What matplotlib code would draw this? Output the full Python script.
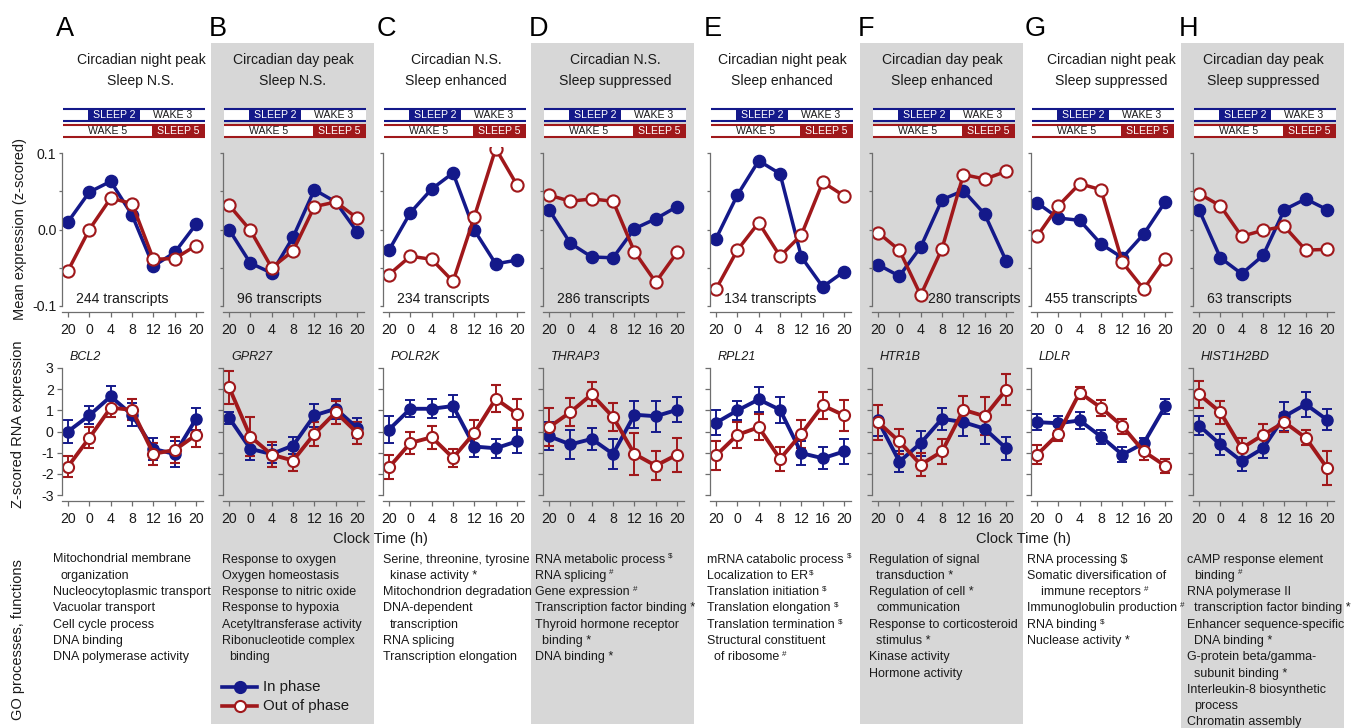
import matplotlib.pyplot as plt
from matplotlib.patches import Rectangle
from matplotlib.lines import Line2D

plt.rcParams['font.family'] = ['Liberation Sans', 'DejaVu Sans']

W, H = 1360, 728
BLUE = '#14198a'
RED = '#a0181b'
GRAY = '#d7d7d7'
AXC = '#6e6e6e'
TXT = '#1a1a1a'

# ---- data ----
panels = list('ABCDEFGH')
clock_labels = ['20', '0', '4', '8', '12', '16', '20']
circadian = ['Circadian night peak', 'Circadian day peak', 'Circadian N.S.', 'Circadian N.S.',
             'Circadian night peak', 'Circadian day peak', 'Circadian night peak', 'Circadian day peak']
sleep = ['Sleep N.S.', 'Sleep N.S.', 'Sleep enhanced', 'Sleep suppressed',
         'Sleep enhanced', 'Sleep enhanced', 'Sleep suppressed', 'Sleep suppressed']
transcripts = [244, 96, 234, 286, 134, 280, 455, 63]
genes = ['BCL2', 'GPR27', 'POLR2K', 'THRAP3', 'RPL21', 'HTR1B', 'LDLR', 'HIST1H2BD']

mean_in = [
    [0.010, 0.049, 0.063, 0.019, -0.048, -0.030, 0.007],
    [0.000, -0.044, -0.057, -0.010, 0.052, 0.036, -0.003],
    [-0.027, 0.022, 0.053, 0.074, -0.001, -0.045, -0.040],
    [0.026, -0.018, -0.036, -0.037, 0.001, 0.014, 0.030],
    [-0.012, 0.045, 0.090, 0.073, -0.036, -0.075, -0.055],
    [-0.046, -0.061, -0.023, 0.039, 0.051, 0.020, -0.041],
    [0.035, 0.015, 0.012, -0.019, -0.037, -0.006, 0.036],
    [0.026, -0.037, -0.058, -0.034, 0.026, 0.040, 0.026],
]
mean_out = [
    [-0.054, 0.000, 0.041, 0.034, -0.039, -0.038, -0.021],
    [0.032, -0.001, -0.050, -0.028, 0.030, 0.036, 0.015],
    [-0.059, -0.035, -0.039, -0.068, 0.017, 0.106, 0.058],
    [0.045, 0.037, 0.040, 0.037, -0.029, -0.069, -0.030],
    [-0.078, -0.027, 0.009, -0.035, -0.007, 0.062, 0.044],
    [-0.004, -0.027, -0.086, -0.025, 0.072, 0.066, 0.076],
    [-0.009, 0.031, 0.060, 0.052, -0.043, -0.078, -0.038],
    [0.047, 0.031, -0.009, -0.001, 0.004, -0.027, -0.026],
]

gene_in = [
    [0.00, 0.76, 1.65, 0.79, -0.82, -1.06, 0.60],
    [0.65, -0.82, -1.06, -0.66, 0.76, 1.07, 0.17],
    [0.09, 1.07, 1.07, 1.20, -0.71, -0.79, -0.46],
    [-0.22, -0.61, -0.35, -1.06, 0.79, 0.72, 1.02],
    [0.41, 0.99, 1.51, 1.02, -1.02, -1.26, -0.94],
    [0.52, -1.42, -0.55, 0.60, 0.44, 0.13, -0.79],
    [0.44, 0.39, 0.52, -0.24, -1.09, -0.55, 1.18],
    [0.28, -0.61, -1.40, -0.79, 0.71, 1.28, 0.55],
]
gene_in_err = [
    [0.53, 0.42, 0.48, 0.55, 0.53, 0.60, 0.53],
    [0.28, 0.50, 0.43, 0.40, 0.55, 0.47, 0.47],
    [0.63, 0.41, 0.45, 0.50, 0.50, 0.45, 0.53],
    [0.67, 0.67, 0.53, 0.70, 0.63, 0.72, 0.59],
    [0.59, 0.44, 0.60, 0.61, 0.55, 0.51, 0.57],
    [0.71, 0.51, 0.59, 0.53, 0.63, 0.72, 0.55],
    [0.39, 0.35, 0.40, 0.33, 0.35, 0.24, 0.35],
    [0.46, 0.50, 0.45, 0.47, 0.67, 0.60, 0.49],
]
gene_out = [
    [-1.65, -0.30, 1.12, 1.02, -1.05, -0.87, -0.16],
    [2.09, -0.24, -1.09, -1.37, -0.11, 0.91, -0.06],
    [-1.69, -0.54, -0.27, -1.24, -0.06, 1.54, 0.83],
    [0.20, 0.91, 1.75, 0.68, -1.06, -1.61, -1.09],
    [-1.13, -0.16, 0.20, -1.29, -0.11, 1.23, 0.76],
    [0.44, -0.47, -1.56, -0.94, 1.02, 0.72, 1.97],
    [-1.10, -0.11, 1.83, 1.12, 0.25, -0.94, -1.61],
    [1.75, 0.91, -0.79, -0.16, 0.44, -0.30, -1.72],
]
gene_out_err = [
    [0.50, 0.50, 0.43, 0.50, 0.53, 0.60, 0.55],
    [0.78, 0.90, 0.60, 0.50, 0.55, 0.55, 0.53],
    [0.57, 0.50, 0.55, 0.43, 0.59, 0.63, 0.68],
    [0.89, 0.67, 0.57, 0.65, 1.00, 0.67, 0.80],
    [0.69, 0.63, 0.61, 0.56, 0.65, 0.65, 0.72],
    [0.83, 0.57, 0.54, 0.61, 0.67, 0.89, 0.72],
    [0.45, 0.35, 0.28, 0.37, 0.35, 0.38, 0.33],
    [0.63, 0.55, 0.50, 0.50, 0.45, 0.35, 0.78],
]

go_terms = [
    ['Mitochondrial membrane', ' organization', 'Nucleocytoplasmic transport', 'Vacuolar transport',
     'Cell cycle process', 'DNA binding', 'DNA polymerase activity'],
    ['Response to oxygen', 'Oxygen homeostasis', 'Response to nitric oxide', 'Response to hypoxia',
     'Acetyltransferase activity', 'Ribonucleotide complex', ' binding'],
    ['Serine, threonine, tyrosine', ' kinase activity *', 'Mitochondrion degradation', 'DNA-dependent',
     ' transcription', 'RNA splicing', 'Transcription elongation'],
    ['RNA metabolic process ^$', 'RNA splicing ^#', 'Gene expression ^#', 'Transcription factor binding *',
     'Thyroid hormone receptor', ' binding *', 'DNA binding *'],
    ['mRNA catabolic process ^$', 'Localization to ER^$', 'Translation initiation ^$',
     'Translation elongation ^$', 'Translation termination ^$', 'Structural constituent',
     ' of ribosome ^#'],
    ['Regulation of signal', ' transduction *', 'Regulation of cell *', ' communication',
     'Response to corticosteroid', ' stimulus *', 'Kinase activity', 'Hormone activity'],
    ['RNA processing $', 'Somatic diversification of', '  immune receptors ^#',
     'Immunoglobulin production ^#', 'RNA binding ^$', 'Nuclease activity *'],
    ['cAMP response element', ' binding ^#', 'RNA polymerase II', ' transcription factor binding *',
     'Enhancer sequence-specific', ' DNA binding *', 'G-protein beta/gamma-', ' subunit binding *',
     'Interleukin-8 biosynthetic', ' process', 'Chromatin assembly'],
]

# sleep / wake schedule edges, in clock-sample index units
sched_blue = [-0.23, 0.96, 3.35, 6.42]
sched_red = [-0.23, 3.92, 6.42]

# ---- layout (pixels) ----
X0 = [68, 229, 389, 549, 716, 878, 1037, 1199]   # pixel of first sample
DX = 21.35
title_shift = [9, 0, 3, 2, 2, 0, 10, 0]
go_dx = [-15, -7, -6, -14, -9, -9, -10, -12]

fig = plt.figure(figsize=(W / 100, H / 100), dpi=100)
renderer = fig.canvas.get_renderer()


def fx(x):
    return x / W


def fy(y):
    return 1 - y / H


def add_ax(left, top, w, h):
    ax = fig.add_axes([left / W, 1 - (top + h) / H, w / W, h / H])
    ax.set_facecolor('none')
    return ax


for i in (1, 3, 5, 7):
    bottom = 728 if i == 7 else 724
    fig.add_artist(Rectangle((fx(X0[i] - 18), fy(bottom)), 163 / W, (bottom - 43) / H,
                             transform=fig.transFigure, facecolor=GRAY, edgecolor='none', zorder=-10))


def style_axis(ax, ybounds, yticks, ylabels, ytick_len, ypad):
    for s in ('top', 'right'):
        ax.spines[s].set_visible(False)
    for s in ('left', 'bottom'):
        ax.spines[s].set_color(AXC)
        ax.spines[s].set_linewidth(0.9)
    ax.spines['left'].set_bounds(*ybounds)
    ax.set_xticks(range(7))
    ax.set_xticklabels(clock_labels)
    ax.set_yticks(yticks)
    ax.set_yticklabels(ylabels)
    ax.tick_params(axis='x', length=3.6, width=0.9, color=AXC, pad=4.5, labelsize=10.2,
                   labelcolor=TXT)
    ax.tick_params(axis='y', length=ytick_len, width=0.9, color=AXC, pad=ypad, labelsize=10.2,
                   labelcolor=TXT)


x = list(range(7))
for i in range(8):
    x0 = X0[i]
    white = i % 2 == 0
    # panel letter
    fig.text(fx(x0 - (12 if white else 20)), fy(36), panels[i], fontsize=19.5, ha='left',
             va='baseline', color='black')
    # titles
    cx = x0 + 3 * DX + title_shift[i]
    fig.text(fx(cx), fy(60), circadian[i], fontsize=10.1, ha='center', va='center', color=TXT)
    fig.text(fx(cx), fy(81), sleep[i], fontsize=10.1, ha='center', va='center', color=TXT)

    # schedule bars
    bx = add_ax(x0 - 0.28 * DX, 105, 6.88 * DX, 35)
    bx.set_xlim(-0.28, 6.6)
    bx.set_ylim(140, 105)
    bx.axis('off')
    bx.add_patch(Rectangle((sched_blue[0], 108.5), sched_blue[3] - sched_blue[0], 12,
                           facecolor='white', edgecolor='none'))
    bx.add_patch(Rectangle((sched_blue[1], 109.2), sched_blue[2] - sched_blue[1], 10.6,
                           facecolor=BLUE, edgecolor='none'))
    bx.hlines([108.5, 120.5], sched_blue[0], sched_blue[3], color=BLUE, lw=1.5)
    bx.text((sched_blue[1] + sched_blue[2]) / 2, 114.7, 'SLEEP 2', color='white', fontsize=7.6,
            ha='center', va='center')
    bx.text((sched_blue[2] + sched_blue[3]) / 2, 114.7, 'WAKE 3', color=TXT, fontsize=7.6,
            ha='center', va='center')
    bx.add_patch(Rectangle((sched_red[0], 124.5), sched_red[2] - sched_red[0], 12,
                           facecolor='white', edgecolor='none'))
    bx.add_patch(Rectangle((sched_red[1], 125.2), sched_red[2] - sched_red[1], 10.6,
                           facecolor=RED, edgecolor='none'))
    bx.hlines([124.5, 136.5], sched_red[0], sched_red[2], color=RED, lw=1.5)
    bx.text((sched_red[0] + sched_red[1]) / 2, 130.7, 'WAKE 5', color=TXT, fontsize=7.6,
            ha='center', va='center')
    bx.text((sched_red[1] + sched_red[2]) / 2, 130.7, 'SLEEP 5', color='white', fontsize=7.6,
            ha='center', va='center')

    # top: mean expression
    ax = add_ax(x0 - 0.28 * DX, 147, 6.6 * DX, 165)
    ax.set_xlim(-0.28, 6.32)
    ax.set_ylim(-0.108, 0.108)
    ylab = ['-0.1', '', '0.0', '', '0.1'] if i == 0 else [''] * 5
    style_axis(ax, (-0.1, 0.1), [-0.1, -0.05, 0, 0.05, 0.1], ylab, 2.5, 1.5)
    ax.plot(x, mean_in[i], '-o', color=BLUE, lw=2.5, ms=8.8, mfc=BLUE, mec=BLUE)
    ax.plot(x, mean_out[i], '-o', color=RED, lw=2.5, ms=8.8, mfc='white', mec=RED, mew=1.5)
    if i == 5:
        fig.text(fx(x0 + 142), fy(299), f'{transcripts[i]} transcripts', fontsize=10.1,
                 ha='right', va='center', color=TXT)
    else:
        fig.text(fx(x0 + 8), fy(299), f'{transcripts[i]} transcripts', fontsize=10.1,
                 ha='left', va='center', color=TXT)

    # middle: single gene
    ax2 = add_ax(x0 - 0.28 * DX, 362.5, 6.6 * DX, 138)
    ax2.set_xlim(-0.28, 6.32)
    ax2.set_ylim(-3.25, 3.25)
    ylab2 = ['-3', '-2', '-1', '0', '1', '2', '3'] if i == 0 else [''] * 7
    style_axis(ax2, (-3, 3), list(range(-3, 4)), ylab2, 3.5, 2.5)
    ax2.errorbar(x, gene_in[i], yerr=gene_in_err[i], color=BLUE, lw=2.8, marker='o', ms=8,
                 mfc=BLUE, mec=BLUE, capsize=3.5, elinewidth=1.4, capthick=1.4)
    ax2.errorbar(x, gene_out[i], yerr=gene_out_err[i], color=RED, lw=2.8, marker='o', ms=8,
                 mfc='white', mec=RED, mew=1.5, capsize=3.5, elinewidth=1.4, capthick=1.4)
    fig.text(fx(x0 + 2), fy(357), genes[i], fontsize=9, style='italic', ha='left',
             va='center', color=TXT)

    # GO terms; superscript marks are drawn as small separate texts
    for k, line in enumerate(go_terms[i]):
        indent = len(line) - len(line.lstrip(' '))
        s = line.strip()
        sym = None
        if '^' in s:
            s, sym = s.split('^')
        gap = 3 if s.endswith(' ') else 0.8
        s = s.rstrip()
        ybase = 562.5 + 16.3 * k
        t = fig.text(fx(x0 + go_dx[i] + 7 * indent), fy(ybase), s, fontsize=9,
                     ha='left', va='baseline', color=TXT)
        if sym:
            x1 = t.get_window_extent(renderer).x1
            fig.text(fx(x1 + gap), fy(ybase - 4.5), sym, fontsize=5.8, ha='left',
                     va='baseline', color=TXT)

# axis labels
fig.text(fx(20), fy(229), 'Mean expression (z-scored)', rotation=90, fontsize=10.5,
         ha='center', va='center', color=TXT)
fig.text(fx(18), fy(424), 'Z-scored RNA expression', rotation=90, fontsize=10.5,
         ha='center', va='center', color=TXT)
fig.text(fx(18), fy(640), 'GO processes, functions', rotation=90, fontsize=10.5,
         ha='center', va='center', color=TXT)
for cx in (380, 1023):
    fig.text(fx(cx), fy(539), 'Clock Time (h)', fontsize=10.5, ha='center', va='center', color=TXT)

# legend
for yy, col, face, lab in ((687, BLUE, BLUE, 'In phase'), (706, RED, 'white', 'Out of phase')):
    fig.add_artist(Line2D([fx(222), fx(257)], [fy(yy), fy(yy)], transform=fig.transFigure,
                          color=col, lw=2.6))
    fig.add_artist(Line2D([fx(239.5)], [fy(yy)], transform=fig.transFigure, marker='o', ms=8,
                          mfc=face, mec=col, mew=1.5, color=col))
    fig.text(fx(263), fy(yy), lab, fontsize=10.8, ha='left', va='center', color=TXT)

fig.savefig('out.png', dpi=100)
